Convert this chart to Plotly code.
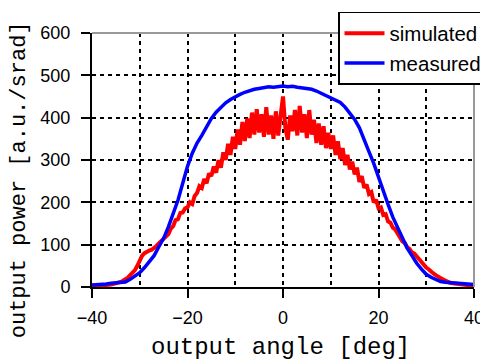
import plotly.graph_objects as go

# measured (blue), 1 deg steps from -40 to 40
angle_measured = list(range(-40, 41))
power_measured = [5, 5, 5, 7, 9, 10, 10, 12, 18, 26,
                  34, 46, 60, 74, 95, 115, 142, 172, 205, 245,
                  285, 316, 340, 358, 378, 398, 413, 425, 435, 443,
                  450, 455, 460, 464, 467, 469, 471, 473, 472, 474,
                  475, 473, 474, 472, 471, 469, 467, 463, 458, 453,
                  448, 443, 436, 425, 412, 396, 376, 350, 320, 292,
                  258, 224, 195, 165, 140, 112, 92, 74, 56, 42,
                  30, 23, 17, 13, 11, 10, 10, 10, 8, 6, 6]

# simulated (red), 0.5 deg steps from -40 to 40
angle_simulated = [x / 2 for x in range(-80, 81)]
power_simulated = [3, 3, 3, 3, 4, 4, 5, 5, 6, 7,
                   8, 10, 12, 15, 18, 22, 28, 33, 40, 50,
                   62, 74, 80, 84, 86, 88, 92, 97, 103, 108,
                   112, 120, 125, 138, 144, 158, 160, 175, 176, 186,
                   188, 200, 196, 215, 222, 238, 234, 255, 245, 268,
                   262, 285, 270, 300, 282, 318, 300, 338, 312, 355,
                   326, 372, 336, 390, 345, 398, 352, 412, 360, 420,
                   365, 408, 355, 425, 360, 405, 350, 415, 358, 405,
                   450, 375, 348, 405, 368, 418, 358, 428, 365, 408,
                   352, 418, 360, 395, 340, 386, 336, 380, 328, 364,
                   326, 358, 312, 344, 302, 328, 288, 312, 278, 296,
                   266, 282, 248, 262, 234, 242, 220, 224, 200, 206,
                   186, 188, 170, 172, 155, 152, 140, 136, 125, 118,
                   108, 104, 94, 90, 82, 79, 72, 67, 58, 54,
                   46, 42, 36, 32, 28, 24, 21, 18, 15, 12,
                   10, 9, 8, 7, 6, 5, 5, 4, 4, 4, 4]

x_ticks = [-40, -20, 0, 20, 40]
x_grid = [-30, -10, 10, 30]
y_ticks = [0, 100, 200, 300, 400, 500, 600]
y_grid = [100, 200, 300, 400, 500]

fig = go.Figure()
fig.add_trace(go.Scatter(x=angle_simulated, y=power_simulated, mode="lines",
                         name="simulated", line=dict(color="#ff0000", width=4)))
fig.add_trace(go.Scatter(x=angle_measured, y=power_measured, mode="lines",
                         name="measured", line=dict(color="#0000ff", width=3.5)))

grid = dict(gridcolor="black", griddash="4px,4px", gridwidth=1.5)
mono = "Liberation Mono"

fig.update_layout(
    width=480, height=352,
    margin=dict(l=84, r=14, t=25, b=73, autoexpand=False),
    paper_bgcolor="white", plot_bgcolor="white",
    showlegend=True,
    legend=dict(x=0.644, y=1.083, xanchor="left", yanchor="top",
                bordercolor="black", borderwidth=1.5, bgcolor="white",
                font=dict(family="Liberation Sans", size=20.5, color="black"),
                itemwidth=40, tracegroupgap=0),
    xaxis=dict(range=[-40, 40], tickvals=x_ticks, showgrid=True, **grid,
               minor=dict(tickvals=x_grid, showgrid=True, ticks="", **grid),
               showline=True, linecolor="black", linewidth=2,
               ticks="outside", ticklen=9, tickwidth=2, tickcolor="black",
               ticklabelstandoff=4,
               tickfont=dict(family="Liberation Sans", size=18, color="black"),
               zeroline=False),
    yaxis=dict(range=[0, 600], tickvals=y_ticks, showgrid=False,
               minor=dict(tickvals=y_grid, showgrid=True, ticks="", **grid),
               showline=True, linecolor="black", linewidth=2,
               ticks="outside", ticklen=9, tickwidth=2, tickcolor="black",
               ticklabelstandoff=7,
               tickfont=dict(family="Liberation Sans", size=18, color="black"),
               zeroline=False),
)
fig.add_annotation(text="output angle [deg]", xref="paper", yref="paper",
                   x=0.5, y=0, yshift=-60, xshift=-3, showarrow=False,
                   xanchor="center", yanchor="middle",
                   font=dict(family=mono, size=24, color="black"))
fig.add_annotation(text="output power [a.u./srad]", xref="paper", yref="paper",
                   x=0, y=0.42, xshift=-73, textangle=-90, showarrow=False,
                   xanchor="center", yanchor="middle",
                   font=dict(family=mono, size=22, color="black"))
# gray top and right frame
fig.add_shape(type="line", xref="paper", yref="paper", x0=0, x1=1, y0=1, y1=1,
              line=dict(color="#999999", width=2), layer="above")
fig.add_shape(type="line", xref="paper", yref="paper", x0=1, x1=1, y0=0, y1=1,
              line=dict(color="#999999", width=2), layer="above")

fig.write_html("out.html")
